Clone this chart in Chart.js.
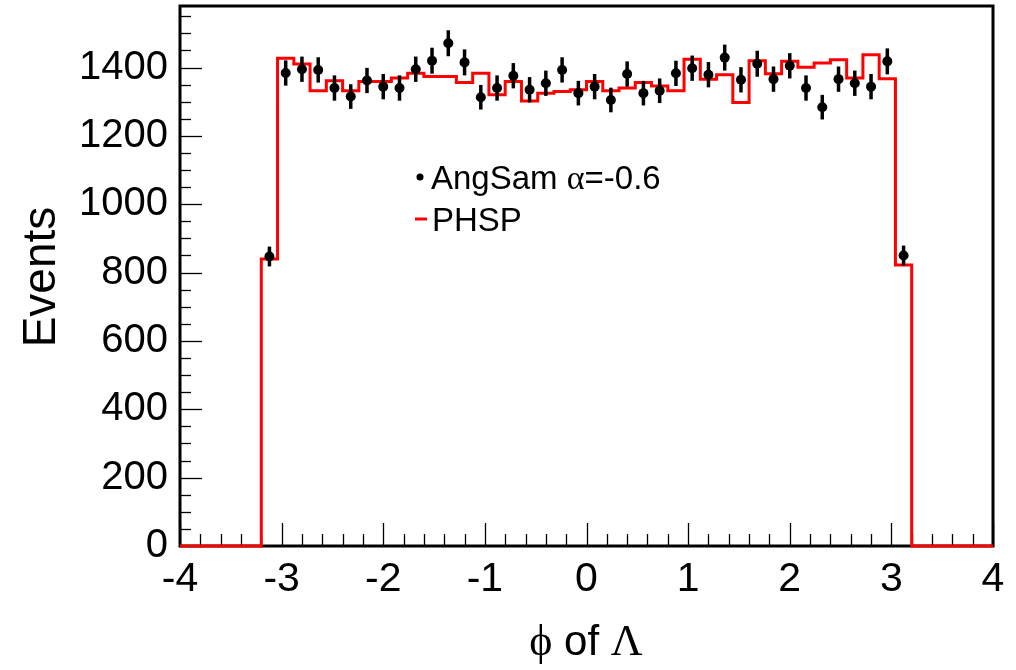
<!DOCTYPE html>
<html><head><meta charset="utf-8">
<script src="https://cdn.jsdelivr.net/npm/chart.js@4/dist/chart.umd.min.js"></script>
<style>html,body{margin:0;padding:0;background:#fff;}#wrap{width:1016px;height:670px;position:relative;}</style>
</head><body><div id="wrap"><canvas id="c" width="1016" height="670"></canvas></div>
<script>
// ---- data ----
const binCenters = [-3.12,-2.96,-2.80,-2.64,-2.48,-2.32,-2.16,-2.00,-1.84,-1.68,
  -1.52,-1.36,-1.20,-1.04,-0.88,-0.72,-0.56,-0.40,-0.24,-0.08,
  0.08,0.24,0.40,0.56,0.72,0.88,1.04,1.20,1.36,1.52,
  1.68,1.84,2.00,2.16,2.32,2.48,2.64,2.80,2.96,3.12];
const binWidth = 0.16;
const angSamValues = [847,1384,1395,1393,1340,1315,1362,1344,1340,1395,
  1420,1471,1415,1313,1340,1376,1335,1354,1393,1325,
  1344,1305,1381,1325,1332,1383,1398,1379,1429,1364,
  1411,1366,1405,1340,1284,1366,1354,1344,1418,850];
const angSamErrors = [29,37,37,37,37,36,37,37,37,37,
  38,38,38,36,37,37,37,37,37,36,
  37,36,37,36,36,37,37,37,38,37,
  38,37,37,37,36,37,37,37,38,29];
const phspValues = [840,1427,1410,1332,1361,1332,1359,1359,1369,1383,
  1374,1374,1356,1383,1320,1359,1302,1325,1330,1335,
  1359,1332,1340,1356,1346,1332,1424,1366,1379,1298,
  1420,1382,1418,1401,1413,1423,1369,1437,1367,822];
const xTicks = [-4,-3,-2,-1,0,1,2,3,4];
const yTicks = [0,200,400,600,800,1000,1200,1400];
const xMin = -4, xMax = 4, yMin = 0, yMax = 1580;
const seriesNames = ['AngSam \u03B1=-0.6', 'PHSP'];
const xTitle = '\u03D5 of \u039B';
const yTitle = 'Events';

// ---- build datasets ----
const histPts = [{x:xMin, y:0}];
binCenters.forEach((c,i)=>histPts.push({x:c-binWidth/2, y:phspValues[i]}));
histPts.push({x:binCenters[binCenters.length-1]+binWidth/2, y:0});
histPts.push({x:xMax, y:0});
const dataPts = binCenters.map((c,i)=>({x:c, y:angSamValues[i], e:angSamErrors[i]}));

const FONT = '"Liberation Sans", Arial, Helvetica, sans-serif';
const SERIF = '"Liberation Serif", "DejaVu Serif", "Times New Roman", serif';

function drawMixed(ctx, parts, x, y, align){
  let total = 0;
  parts.forEach(p=>{ ctx.font = p[1]; total += ctx.measureText(p[0]).width; });
  let cx = align==='center' ? x - total/2 : x;
  ctx.textAlign='left';
  parts.forEach(p=>{ ctx.font = p[1]; ctx.fillText(p[0], cx, y); cx += ctx.measureText(p[0]).width; });
}

const framePlugin = {
  id:'frame',
  beforeDatasetsDraw(chart){
    const {ctx, chartArea:a, scales:{x,y}} = chart;
    ctx.save();
    ctx.strokeStyle='#000'; ctx.lineWidth=1.3;
    for(let v=yMin; v<=yMax; v+=50){
      const py = Math.round(y.getPixelForValue(v))+0.5;
      const len = (v%200===0)?22:11;
      ctx.beginPath(); ctx.moveTo(a.left, py); ctx.lineTo(a.left+len, py); ctx.stroke();
    }
    for(let k=0; k<=40; k++){
      const v = xMin + k*0.2;
      const px = Math.round(x.getPixelForValue(v))+0.5;
      const len = (k%5===0)?23:12;
      ctx.beginPath(); ctx.moveTo(px, a.bottom); ctx.lineTo(px, a.bottom-len); ctx.stroke();
    }
    ctx.lineWidth=3;
    ctx.strokeRect(a.left, a.top, a.right-a.left, a.bottom-a.top);
    ctx.restore();
  },
  afterDatasetsDraw(chart){
    const {ctx, scales:{x,y}} = chart;
    ctx.save();
    ctx.strokeStyle='#000'; ctx.lineWidth=3.5;
    dataPts.forEach(p=>{
      const px = x.getPixelForValue(p.x);
      ctx.beginPath();
      ctx.moveTo(px, y.getPixelForValue(p.y+p.e));
      ctx.lineTo(px, y.getPixelForValue(p.y-p.e));
      ctx.stroke();
    });
    ctx.fillStyle='#000';
    dataPts.forEach(p=>{
      ctx.beginPath();
      ctx.arc(x.getPixelForValue(p.x), y.getPixelForValue(p.y), 5, 0, Math.PI*2);
      ctx.fill();
    });
    // legend
    ctx.textBaseline='alphabetic';
    ctx.fillStyle='#000';
    ctx.beginPath(); ctx.arc(420, 177, 3.5, 0, Math.PI*2); ctx.fill();
    drawMixed(ctx, [['AngSam ', '33px '+FONT], ['\u03B1', '34px '+SERIF], ['=-0.6', '33px '+FONT]], 431, 189, 'left');
    ctx.strokeStyle='#ff0000'; ctx.lineWidth=3;
    ctx.beginPath(); ctx.moveTo(415, 219); ctx.lineTo(427, 219); ctx.stroke();
    ctx.font = '33px ' + FONT;
    ctx.fillText(seriesNames[1], 432, 231);
    // x title
    drawMixed(ctx, [['\u03D5', '44px '+SERIF], [' of ', '42px '+FONT], ['\u039B', '44px '+SERIF]], 586, 655, 'center');
    // y title
    ctx.translate(55, 277);
    ctx.rotate(-Math.PI/2);
    ctx.textAlign='center';
    ctx.font = '46px ' + FONT;
    ctx.fillText(yTitle, 0, 0);
    ctx.restore();
  }
};

new Chart(document.getElementById('c'), {
  type:'scatter',
  data:{datasets:[
    {label:seriesNames[1], data:histPts, showLine:true, stepped:'before', borderColor:'#ff0000',
     borderWidth:3, pointRadius:0, fill:false, clip:false},
    {label:seriesNames[0], data:dataPts, pointRadius:0, showLine:false}
  ]},
  options:{
    responsive:false, animation:false, devicePixelRatio:1,
    layout:{padding:{left:0,right:23,top:6,bottom:0}},
    plugins:{legend:{display:false}, tooltip:{enabled:false}},
    scales:{
      x:{type:'linear', min:xMin, max:xMax,
        grid:{display:false, drawTicks:false}, border:{display:false},
        afterBuildTicks(s){ s.ticks = xTicks.map(v=>({value:v})); },
        afterFit(s){ s.height = 124; s.paddingLeft = 0; s.paddingRight = 0; },
        ticks:{color:'#000', font:{family:FONT, size:41}, padding:9, maxRotation:0, autoSkip:false,
          callback:(v)=>String(v)}},
      y:{type:'linear', min:yMin, max:yMax,
        grid:{display:false, drawTicks:false}, border:{display:false},
        afterBuildTicks(s){ s.ticks = yTicks.map(v=>({value:v})); },
        afterFit(s){ s.width = 180; s.paddingTop = 0; s.paddingBottom = 0; },
        ticks:{color:'#000', font:{family:FONT, size:40}, padding:12, autoSkip:false,
          callback:(v)=>String(v)}}
    }
  },
  plugins:[framePlugin]
});
</script></body></html>
